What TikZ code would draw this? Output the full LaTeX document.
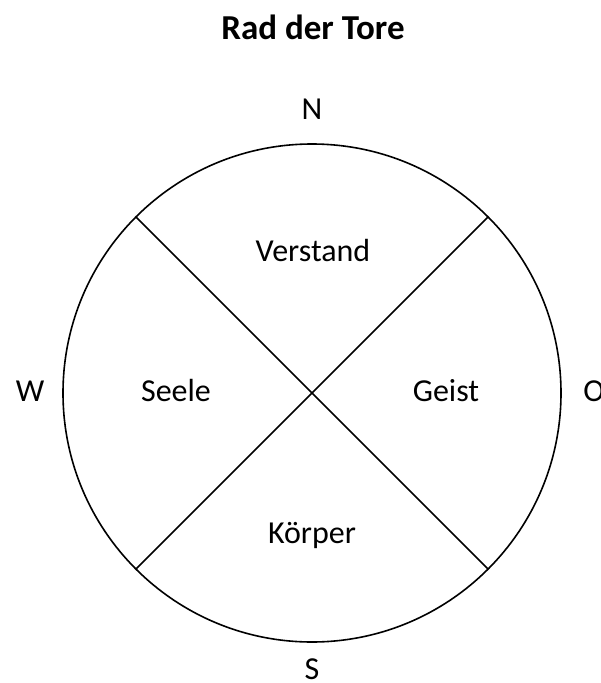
\documentclass[tikz,border=0pt]{standalone}
\usepackage{fontspec}
\setmainfont{Carlito}
\begin{document}
\begin{tikzpicture}[x=1pt,y=-1pt,
  lbl/.style={font=\fontsize{32}{36}\selectfont, inner sep=0pt, anchor=base},
  ttl/.style={font=\bfseries\fontsize{35}{40}\selectfont, inner sep=0pt, anchor=base},
  ln/.style={line width=1.6pt}]
\useasboundingbox (0,0) rectangle (601,683);
\coordinate (c) at (312,393);
\node[ttl] (title) at (313,39) {Rad der Tore};
\draw[ln] (c) circle (249);
\coordinate (nw) at (136,217);
\coordinate (ne) at (488,217);
\coordinate (sw) at (136,569);
\coordinate (se) at (488,569);
\draw[ln] (nw) -- (se);
\draw[ln] (ne) -- (sw);
\node[lbl] (n) at (312,119) {N};
\node[lbl] (s) at (312,679) {S};
\node[lbl] (w) at (30,401) {W};
\node[lbl] (o) at (594,401) {O};
\node[lbl] (v) at (313,261) {Verstand};
\node[lbl] (se2) at (176,401) {Seele};
\node[lbl] (g) at (446,401) {Geist};
\node[lbl] (k) at (312,543) {Körper};
\end{tikzpicture}
\end{document}
